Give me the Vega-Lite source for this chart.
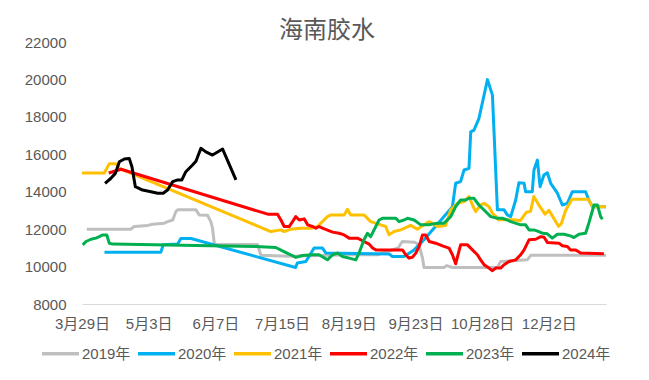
{
  "$schema": "https://vega.github.io/schema/vega-lite/v6.json",
  "width": 524,
  "height": 262,
  "autosize": {"type": "none"},
  "padding": {"left": 82, "top": 42, "right": 43, "bottom": 76},
  "background": "white",
  "title": {"text": "海南胶水", "fontSize": 24, "font": "Noto Sans CJK SC", "fontWeight": "normal", "color": "#595959", "anchor": "middle", "frame": "group", "dx": -17, "offset": -8},
  "datasets": {
    "d": [
      {"s":"2019年","x":2.5,"v":12000},{"s":"2019年","x":25.7,"v":12000},{"s":"2019年","x":27.4,"v":12140},{"s":"2019年","x":34.5,"v":12200},{"s":"2019年","x":37.1,"v":12260},{"s":"2019年","x":43.2,"v":12320},{"s":"2019年","x":44.9,"v":12400},{"s":"2019年","x":47.6,"v":12490},{"s":"2019年","x":49.3,"v":12940},{"s":"2019年","x":50.2,"v":13030},{"s":"2019年","x":59.8,"v":13030},{"s":"2019年","x":61.5,"v":12760},{"s":"2019年","x":65.9,"v":12740},{"s":"2019年","x":67.6,"v":12400},{"s":"2019年","x":68.5,"v":12050},{"s":"2019年","x":69.4,"v":11250},{"s":"2019年","x":70.3,"v":11180},{"s":"2019年","x":92.1,"v":11180},{"s":"2019年","x":93.9,"v":10600},{"s":"2019年","x":108.6,"v":10550},{"s":"2019年","x":141.1,"v":10630},{"s":"2019年","x":155.1,"v":10630},{"s":"2019年","x":165.9,"v":10990},{"s":"2019年","x":168.1,"v":11340},{"s":"2019年","x":174.6,"v":11300},{"s":"2019年","x":176.9,"v":11160},{"s":"2019年","x":178.7,"v":10450},{"s":"2019年","x":179.5,"v":9950},{"s":"2019年","x":190,"v":9950},{"s":"2019年","x":191.4,"v":10050},{"s":"2019年","x":194.4,"v":9950},{"s":"2019年","x":218,"v":9950},{"s":"2019年","x":219.7,"v":10270},{"s":"2019年","x":233.7,"v":10360},{"s":"2019年","x":235.5,"v":10600},{"s":"2019年","x":275,"v":10600},

      {"s":"2020年","x":11.8,"v":10770},{"s":"2020年","x":41.4,"v":10770},{"s":"2020年","x":42.6,"v":11160},{"s":"2020年","x":50.2,"v":11200},{"s":"2020年","x":51.9,"v":11500},{"s":"2020年","x":57.2,"v":11500},{"s":"2020年","x":112.1,"v":9950},{"s":"2020年","x":113,"v":10190},{"s":"2020年","x":117.5,"v":10270},{"s":"2020年","x":121.8,"v":10990},{"s":"2020年","x":126.2,"v":10990},{"s":"2020年","x":128,"v":10720},{"s":"2020年","x":161.2,"v":10670},{"s":"2020年","x":162.9,"v":10540},{"s":"2020年","x":169,"v":10540},{"s":"2020年","x":174.3,"v":10890},{"s":"2020年","x":179.5,"v":11430},{"s":"2020年","x":184.7,"v":12050},{"s":"2020年","x":190,"v":12670},{"s":"2020年","x":194.4,"v":13200},{"s":"2020年","x":196.1,"v":14450},{"s":"2020年","x":198.7,"v":14540},{"s":"2020年","x":200.5,"v":15160},{"s":"2020年","x":203.1,"v":15250},{"s":"2020年","x":204,"v":17200},{"s":"2020年","x":205.7,"v":17290},{"s":"2020年","x":208.3,"v":17910},{"s":"2020年","x":212.8,"v":19990},{"s":"2020年","x":215.4,"v":19160},{"s":"2020年","x":218,"v":13030},{"s":"2020年","x":221.5,"v":13030},{"s":"2020年","x":223.2,"v":12760},{"s":"2020年","x":225,"v":12670},{"s":"2020年","x":227.6,"v":13560},{"s":"2020年","x":229.3,"v":14480},{"s":"2020年","x":232,"v":14450},{"s":"2020年","x":232.8,"v":14000},{"s":"2020年","x":236.3,"v":14000},{"s":"2020年","x":237.2,"v":15160},{"s":"2020年","x":239,"v":15690},{"s":"2020年","x":240.4,"v":14270},{"s":"2020年","x":242.4,"v":14890},{"s":"2020年","x":244.2,"v":15010},{"s":"2020年","x":246,"v":14450},{"s":"2020年","x":249.5,"v":13920},{"s":"2020年","x":252.1,"v":13290},{"s":"2020年","x":254.7,"v":13380},{"s":"2020年","x":257.3,"v":14000},{"s":"2020年","x":264.3,"v":14000},{"s":"2020年","x":266,"v":13560},{"s":"2020年","x":267.8,"v":13200},{"s":"2020年","x":275,"v":13200},

      {"s":"2021年","x":0,"v":15000},{"s":"2021年","x":11.7,"v":15000},{"s":"2021年","x":14.3,"v":15500},{"s":"2021年","x":17.8,"v":15500},{"s":"2021年","x":19.6,"v":15250},{"s":"2021年","x":99.1,"v":11870},{"s":"2021年","x":104.4,"v":11960},{"s":"2021年","x":106.1,"v":11870},{"s":"2021年","x":109.6,"v":12000},{"s":"2021年","x":114.8,"v":12050},{"s":"2021年","x":120.1,"v":12050},{"s":"2021年","x":123.6,"v":12140},{"s":"2021年","x":128.8,"v":12670},{"s":"2021年","x":130.6,"v":12760},{"s":"2021年","x":137.6,"v":12760},{"s":"2021年","x":139.3,"v":13060},{"s":"2021年","x":141,"v":12760},{"s":"2021年","x":148,"v":12760},{"s":"2021年","x":151.5,"v":12400},{"s":"2021年","x":156.8,"v":12230},{"s":"2021年","x":159.4,"v":12140},{"s":"2021年","x":161.1,"v":11700},{"s":"2021年","x":163.8,"v":11870},{"s":"2021年","x":167.3,"v":11960},{"s":"2021年","x":172.5,"v":12200},{"s":"2021年","x":176,"v":12000},{"s":"2021年","x":179.5,"v":12230},{"s":"2021年","x":182.1,"v":12400},{"s":"2021年","x":183.9,"v":12320},{"s":"2021年","x":186.5,"v":12140},{"s":"2021年","x":190.9,"v":12200},{"s":"2021年","x":193.5,"v":13030},{"s":"2021年","x":197,"v":13380},{"s":"2021年","x":200.5,"v":13470},{"s":"2021年","x":203.1,"v":13740},{"s":"2021年","x":204.9,"v":13290},{"s":"2021年","x":206.6,"v":12940},{"s":"2021年","x":209.2,"v":13290},{"s":"2021年","x":211,"v":13380},{"s":"2021年","x":213.6,"v":13200},{"s":"2021年","x":215.4,"v":12850},{"s":"2021年","x":217.1,"v":12690},{"s":"2021年","x":218.5,"v":12500},{"s":"2021年","x":226.7,"v":12500},{"s":"2021年","x":230,"v":12450},{"s":"2021年","x":233.2,"v":12900},{"s":"2021年","x":235.4,"v":12950},{"s":"2021年","x":237.1,"v":13740},{"s":"2021年","x":239.7,"v":13300},{"s":"2021年","x":243,"v":12800},{"s":"2021年","x":245.1,"v":13000},{"s":"2021年","x":250.1,"v":12150},{"s":"2021年","x":251.6,"v":12300},{"s":"2021年","x":253.8,"v":13000},{"s":"2021年","x":257.1,"v":13600},{"s":"2021年","x":265.7,"v":13600},{"s":"2021年","x":267.9,"v":13200},{"s":"2021年","x":275,"v":13200},

      {"s":"2022年","x":14,"v":15000},{"s":"2022年","x":20.5,"v":15200},{"s":"2022年","x":97.5,"v":12800},{"s":"2022年","x":102.6,"v":12800},{"s":"2022年","x":104.4,"v":12490},{"s":"2022年","x":106.1,"v":12140},{"s":"2022年","x":108.7,"v":12140},{"s":"2022年","x":110.5,"v":12400},{"s":"2022年","x":112.2,"v":12670},{"s":"2022年","x":114,"v":12490},{"s":"2022年","x":116.6,"v":12550},{"s":"2022年","x":118.4,"v":12230},{"s":"2022年","x":121,"v":12140},{"s":"2022年","x":122.7,"v":12050},{"s":"2022年","x":124.4,"v":12140},{"s":"2022年","x":126.2,"v":12050},{"s":"2022年","x":131.5,"v":11840},{"s":"2022年","x":134.9,"v":11780},{"s":"2022年","x":137.6,"v":11690},{"s":"2022年","x":140.2,"v":11520},{"s":"2022年","x":144.6,"v":11520},{"s":"2022年","x":148,"v":11340},{"s":"2022年","x":150.7,"v":11200},{"s":"2022年","x":152.5,"v":10990},{"s":"2022年","x":154.2,"v":10890},{"s":"2022年","x":168.2,"v":10890},{"s":"2022年","x":169.9,"v":10630},{"s":"2022年","x":171.6,"v":10450},{"s":"2022年","x":173.4,"v":10500},{"s":"2022年","x":175.2,"v":10720},{"s":"2022年","x":176.9,"v":11070},{"s":"2022年","x":178.7,"v":11690},{"s":"2022年","x":180.4,"v":11690},{"s":"2022年","x":182.2,"v":11340},{"s":"2022年","x":185.6,"v":11250},{"s":"2022年","x":189.2,"v":11110},{"s":"2022年","x":192.6,"v":10990},{"s":"2022年","x":194.4,"v":10630},{"s":"2022年","x":196.1,"v":10150},{"s":"2022年","x":198.7,"v":11160},{"s":"2022年","x":202.3,"v":11160},{"s":"2022年","x":204.9,"v":10890},{"s":"2022年","x":207.5,"v":10630},{"s":"2022年","x":209.2,"v":10360},{"s":"2022年","x":211,"v":10100},{"s":"2022年","x":213.6,"v":9920},{"s":"2022年","x":215.4,"v":9780},{"s":"2022年","x":217.1,"v":9920},{"s":"2022年","x":219.7,"v":9920},{"s":"2022年","x":221.5,"v":10100},{"s":"2022年","x":224.1,"v":10270},{"s":"2022年","x":227.6,"v":10360},{"s":"2022年","x":230.2,"v":10630},{"s":"2022年","x":232,"v":10890},{"s":"2022年","x":234.6,"v":11430},{"s":"2022年","x":238.1,"v":11460},{"s":"2022年","x":240.8,"v":11600},{"s":"2022年","x":242.5,"v":11570},{"s":"2022年","x":244.3,"v":11280},{"s":"2022年","x":250.3,"v":11250},{"s":"2022年","x":252.1,"v":11110},{"s":"2022年","x":254.7,"v":11070},{"s":"2022年","x":256.4,"v":10890},{"s":"2022年","x":259.1,"v":10890},{"s":"2022年","x":261.7,"v":10720},{"s":"2022年","x":273.9,"v":10680},

      {"s":"2023年","x":0.4,"v":11160},{"s":"2023年","x":2.1,"v":11340},{"s":"2023年","x":4.7,"v":11460},{"s":"2023年","x":7.3,"v":11520},{"s":"2023年","x":9.1,"v":11600},{"s":"2023年","x":10.9,"v":11690},{"s":"2023年","x":13,"v":11690},{"s":"2023年","x":14.3,"v":11250},{"s":"2023年","x":16.1,"v":11200},{"s":"2023年","x":60,"v":11130},{"s":"2023年","x":91.2,"v":11070},{"s":"2023年","x":101.7,"v":11020},{"s":"2023年","x":105.2,"v":10840},{"s":"2023年","x":108.7,"v":10670},{"s":"2023年","x":112.2,"v":10490},{"s":"2023年","x":115.7,"v":10590},{"s":"2023年","x":121,"v":10630},{"s":"2023年","x":124.4,"v":10630},{"s":"2023年","x":128.8,"v":10360},{"s":"2023年","x":131.5,"v":10630},{"s":"2023年","x":134.1,"v":10720},{"s":"2023年","x":136.7,"v":10540},{"s":"2023年","x":140.2,"v":10450},{"s":"2023年","x":143.7,"v":10360},{"s":"2023年","x":145.4,"v":10720},{"s":"2023年","x":148,"v":11430},{"s":"2023年","x":149.8,"v":11780},{"s":"2023年","x":151.5,"v":11600},{"s":"2023年","x":155.9,"v":12490},{"s":"2023年","x":157.7,"v":12580},{"s":"2023年","x":164.7,"v":12580},{"s":"2023年","x":166.4,"v":12400},{"s":"2023年","x":169,"v":12490},{"s":"2023年","x":170.8,"v":12580},{"s":"2023年","x":174.3,"v":12490},{"s":"2023年","x":177.8,"v":12230},{"s":"2023年","x":182.1,"v":12230},{"s":"2023年","x":186.5,"v":12320},{"s":"2023年","x":190,"v":12320},{"s":"2023年","x":193.5,"v":12670},{"s":"2023年","x":196.1,"v":13200},{"s":"2023年","x":198.7,"v":13560},{"s":"2023年","x":201.4,"v":13560},{"s":"2023年","x":203.1,"v":13650},{"s":"2023年","x":205.7,"v":13650},{"s":"2023年","x":208.3,"v":13290},{"s":"2023年","x":211.8,"v":12940},{"s":"2023年","x":214.5,"v":12670},{"s":"2023年","x":218,"v":12580},{"s":"2023年","x":220.6,"v":12580},{"s":"2023年","x":223.2,"v":12490},{"s":"2023年","x":225,"v":12400},{"s":"2023年","x":230.2,"v":12230},{"s":"2023年","x":232.8,"v":12230},{"s":"2023年","x":234.6,"v":11960},{"s":"2023年","x":237.2,"v":11960},{"s":"2023年","x":239.8,"v":11870},{"s":"2023年","x":241.6,"v":11780},{"s":"2023年","x":244.2,"v":11750},{"s":"2023年","x":246.8,"v":11520},{"s":"2023年","x":249.5,"v":11730},{"s":"2023年","x":252.9,"v":11730},{"s":"2023年","x":256.4,"v":11640},{"s":"2023年","x":258.2,"v":11550},{"s":"2023年","x":260.8,"v":11730},{"s":"2023年","x":264.3,"v":11780},{"s":"2023年","x":266,"v":12320},{"s":"2023年","x":268.7,"v":13290},{"s":"2023年","x":270.5,"v":13290},{"s":"2023年","x":272.2,"v":12670},{"s":"2023年","x":273.1,"v":12530},

      {"s":"2024年","x":12.1,"v":14450},{"s":"2024年","x":15.2,"v":14720},{"s":"2024年","x":17.5,"v":14980},{"s":"2024年","x":19.6,"v":15600},{"s":"2024年","x":22.2,"v":15750},{"s":"2024年","x":24.8,"v":15780},{"s":"2024年","x":26.2,"v":15330},{"s":"2024年","x":28,"v":14270},{"s":"2024年","x":31.8,"v":14090},{"s":"2024年","x":36.2,"v":14000},{"s":"2024年","x":39.7,"v":13920},{"s":"2024年","x":42.6,"v":13920},{"s":"2024年","x":44.9,"v":14090},{"s":"2024年","x":47.6,"v":14540},{"s":"2024年","x":50.2,"v":14630},{"s":"2024年","x":52.4,"v":14630},{"s":"2024年","x":54.5,"v":15070},{"s":"2024年","x":58,"v":15430},{"s":"2024年","x":59.8,"v":15630},{"s":"2024年","x":62.4,"v":16320},{"s":"2024年","x":65,"v":16130},{"s":"2024年","x":68.5,"v":15960},{"s":"2024年","x":73.8,"v":16280},{"s":"2024年","x":80.8,"v":14630}
    ]
  },
  "data": {"name": "d"},
  "mark": {"type": "line", "strokeWidth": 3, "strokeJoin": "round"},
  "encoding": {
    "x": {
      "field": "x", "type": "quantitative",
      "scale": {"domain": [0, 275], "nice": false, "zero": false},
      "axis": {
        "title": null, "grid": false, "ticks": false,
        "values": [0, 35, 70, 105, 140, 175, 210, 245],
        "labelExpr": "['3月29日','5月3日','6月7日','7月15日','8月19日','9月23日','10月28日','12月2日'][round(datum.value/35)]",
        "domainColor": "#D9D9D9", "domainWidth": 1,
        "labelFont": "Liberation Sans, Noto Sans CJK SC", "labelFontSize": 15, "labelColor": "#595959",
        "labelPadding": 12, "labelOverlap": false, "labelFlush": false
      }
    },
    "y": {
      "field": "v", "type": "quantitative",
      "scale": {"domain": [8000, 22000], "nice": false, "zero": false},
      "axis": {
        "title": null, "grid": false, "ticks": false, "domain": false,
        "values": [8000, 10000, 12000, 14000, 16000, 18000, 20000, 22000],
        "format": "d",
        "labelFont": "Liberation Sans, Noto Sans CJK SC", "labelFontSize": 15, "labelColor": "#595959",
        "labelPadding": 16
      }
    },
    "color": {
      "field": "s", "type": "nominal",
      "scale": {
        "domain": ["2019年", "2020年", "2021年", "2022年", "2023年", "2024年"],
        "range": ["#BFBFBF", "#00B0F0", "#FFC000", "#FF0000", "#00B050", "#000000"]
      },
      "legend": {
        "title": null, "orient": "none", "legendX": -42, "legendY": 291,
        "direction": "horizontal", "columns": 6,
        "symbolType": "stroke", "symbolSize": 1369, "symbolStrokeWidth": 3.5,
        "labelFont": "Liberation Sans, Noto Sans CJK SC", "labelFontSize": 15, "labelColor": "#595959",
        "labelOffset": 1, "columnPadding": 0
      }
    }
  },
  "config": {"view": {"stroke": null}}
}
